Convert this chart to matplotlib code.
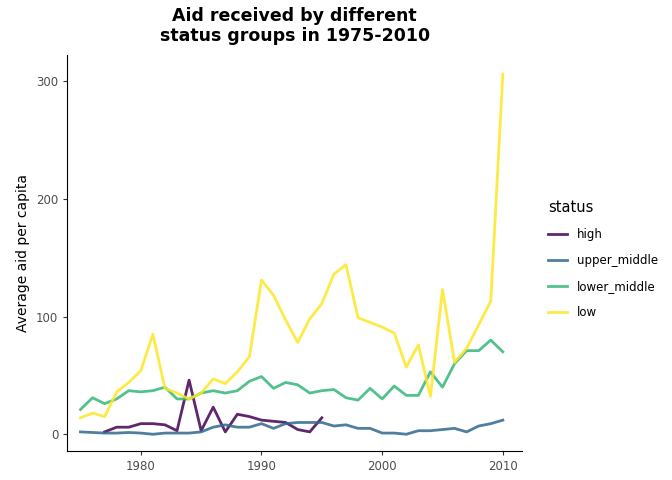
import matplotlib
matplotlib.use("Agg")
import matplotlib.pyplot as plt
from matplotlib.lines import Line2D

years = list(range(1975, 2011))
high_years = list(range(1977, 1996))

high = [2, 6, 6, 9, 9, 8, 3, 46, 3, 23, 2, 17, 15, 12, 11, 10, 4, 2, 14]
upper_middle = [2, 1.5, 1, 1, 1.5, 1, 0, 1, 1, 1, 2, 6, 8, 6, 6, 9, 5, 9, 10, 10,
                10, 7, 8, 5, 5, 1, 1, 0, 3, 3, 4, 5, 2, 7, 9, 12]
lower_middle = [21, 31, 26, 30, 37, 36, 37, 40, 30, 30, 35, 37, 35, 37, 45, 49, 39, 44,
                42, 35, 37, 38, 31, 29, 39, 30, 41, 33, 33, 53, 40, 60, 71, 71, 80, 70]
low = [14, 18, 15, 36, 44, 54, 85, 39, 35, 30, 35, 47, 43, 53, 66, 131, 118, 97, 78, 98,
       111, 136, 144, 99, 95, 91, 86, 57, 76, 32, 123, 61, 73, 93, 113, 306]

labels = ["high", "upper_middle", "lower_middle", "low"]
colors = ["#440154", "#31688E", "#35B779", "#FDE725"]

fig = plt.figure(figsize=(6.72, 4.8), dpi=100)
ax = fig.add_axes([0.1, 0.06, 0.677, 0.825])

series = [(high_years, high), (years, upper_middle), (years, lower_middle), (years, low)]
for (x, y), c in zip(series, colors):
    ax.plot(x, y, color=c, lw=2, alpha=0.85)

ax.set_xlim(1973.9, 2011.6)
ax.set_ylim(-14.4, 322)
ax.set_xticks([1980, 1990, 2000, 2010])
ax.set_yticks([0, 100, 200, 300])
for s in ["top", "right"]:
    ax.spines[s].set_visible(False)
ax.tick_params(colors="#333333", labelsize=8.5, length=3)
ax.tick_params(labelcolor="#4d4d4d")
ax.set_ylabel("Average aid per capita", fontsize=10)
ax.set_title("Aid received by different\nstatus groups in 1975-2010",
             fontsize=12.5, fontweight="bold", pad=10)

handles = [Line2D([], [], color=c, lw=2, alpha=0.85) for c in colors]
leg = fig.legend(handles, labels, title="status", loc="center left",
                 bbox_to_anchor=(0.8, 0.46), frameon=False, fontsize=8.5,
                 title_fontsize=10.5, handlelength=1.6, labelspacing=1.1)
leg._legend_box.align = "left"

fig.savefig("out.png", dpi=100)
